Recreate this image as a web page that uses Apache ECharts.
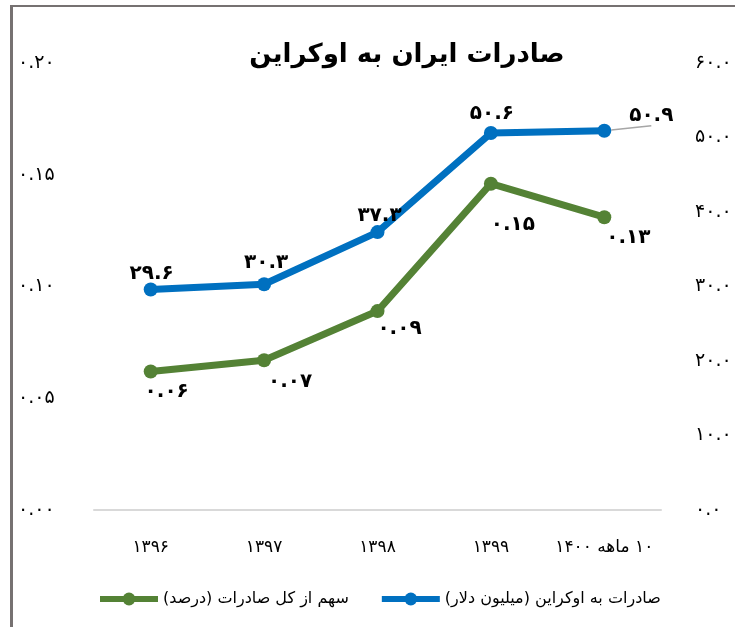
<!DOCTYPE html>
<html>
<head>
<meta charset="utf-8">
<script src="https://cdn.jsdelivr.net/npm/echarts@6/dist/echarts.min.js"></script>
<style>
  html, body { margin: 0; padding: 0; background: #fff; }
  #chart { width: 735px; height: 627px; }
</style>
</head>
<body>
<div id="chart" dir="rtl"></div>
<script>
// Data
const categories = ["۱۳۹۶", "۱۳۹۷", "۱۳۹۸", "۱۳۹۹", "۱۰ ماهه ۱۴۰۰"];
const exportsMillionUsd = [29.6, 30.3, 37.3, 50.6, 50.9];   // right axis
const shareOfTotal = [0.062, 0.067, 0.089, 0.146, 0.131];    // left axis

const TITLE = "صادرات ایران به اوکراین";
const NAME_BLUE = "صادرات به اوکراین (میلیون دلار)";
const NAME_GREEN = "سهم از کل صادرات (درصد)";

const COL_BLUE = "#0070C0";
const COL_GREEN = "#548235";
const FONT = "DejaVu Sans";

// label placement (Excel had them nudged by hand)
const blueLabelOffsets = [[1, -16], [2, -21], [2, -16], [1, -19], [47, -15]];
const greenLabelOffsets = [[16, 20], [26, 22], [22, 18], [22, 41], [24, 21]];

const FA = "۰۱۲۳۴۵۶۷۸۹";
function toFa(s) {
  return String(s).replace(/[0-9]/g, d => FA[+d]);
}

const chart = echarts.init(document.getElementById("chart"), null, { renderer: "canvas" });

const blueData = exportsMillionUsd.map((v, i) => {
  const item = { value: v, label: { offset: blueLabelOffsets[i] } };
  if (i === exportsMillionUsd.length - 1) {
    item.labelLine = { show: true, lineStyle: { color: "#a6a6a6", width: 1.5 } };
  }
  return item;
});
const greenData = shareOfTotal.map((v, i) => ({ value: v, label: { offset: greenLabelOffsets[i] } }));

const dataLabel = {
  show: true,
  position: "inside",
  color: "#000",
  fontFamily: FONT,
  fontWeight: "bold",
  fontSize: 20
};

chart.setOption({
  animation: false,
  backgroundColor: "#fff",
  textStyle: { fontFamily: FONT },
  grid: { left: 94, right: 74, top: 63, bottom: 117, containLabel: false },
  graphic: [
    { type: "line", shape: { x1: 11.5, y1: 5, x2: 11.5, y2: 627 }, style: { stroke: "#767171", lineWidth: 3 } },
    { type: "line", shape: { x1: 10, y1: 6, x2: 735, y2: 6 }, style: { stroke: "#767171", lineWidth: 2 } },
    {
      type: "text",
      x: 407, y: 55,
      style: {
        text: TITLE,
        fill: "#000",
        font: "bold 26px '" + FONT + "'",
        textAlign: "center",
        textVerticalAlign: "middle"
      }
    }
  ],
  legend: {
    data: [NAME_GREEN, NAME_BLUE],
    left: 92,
    top: 586,
    itemWidth: 58,
    itemHeight: 16,
    itemGap: 30,
    lineStyle: { width: 6 },
    textStyle: { color: "#000", fontSize: 16, fontFamily: FONT }
  },
  xAxis: {
    type: "category",
    data: categories,
    boundaryGap: true,
    axisLine: { show: true, lineStyle: { color: "#d9d9d9", width: 2 } },
    axisTick: { show: false },
    axisLabel: { color: "#000", fontSize: 17, fontFamily: FONT, margin: 29, interval: 0 },
    splitLine: { show: false }
  },
  yAxis: [
    {
      type: "value",
      min: 0, max: 0.2, interval: 0.05,
      axisLine: { show: false },
      axisTick: { show: false },
      splitLine: { show: false },
      axisLabel: {
        color: "#000", fontSize: 19, fontFamily: FONT,
        align: "left", margin: 76,
        formatter: v => toFa(v.toFixed(2))
      }
    },
    {
      type: "value",
      position: "right",
      min: 0, max: 60, interval: 10,
      axisLine: { show: false },
      axisTick: { show: false },
      splitLine: { show: false },
      axisLabel: {
        color: "#000", fontSize: 19, fontFamily: FONT,
        align: "left", margin: 34,
        formatter: v => toFa(v.toFixed(1))
      }
    }
  ],
  series: [
    {
      name: NAME_GREEN,
      type: "line",
      yAxisIndex: 0,
      data: greenData,
      symbol: "circle",
      symbolSize: 14,
      lineStyle: { color: COL_GREEN, width: 7 },
      itemStyle: { color: COL_GREEN },
      emphasis: { disabled: true },
      label: Object.assign({}, dataLabel, { formatter: p => toFa(p.value.toFixed(2)) })
    },
    {
      name: NAME_BLUE,
      type: "line",
      yAxisIndex: 1,
      data: blueData,
      symbol: "circle",
      symbolSize: 14,
      lineStyle: { color: COL_BLUE, width: 7 },
      itemStyle: { color: COL_BLUE },
      emphasis: { disabled: true },
      label: Object.assign({}, dataLabel, { formatter: p => toFa(p.value.toFixed(1)) })
    }
  ]
});
</script>
</body>
</html>
